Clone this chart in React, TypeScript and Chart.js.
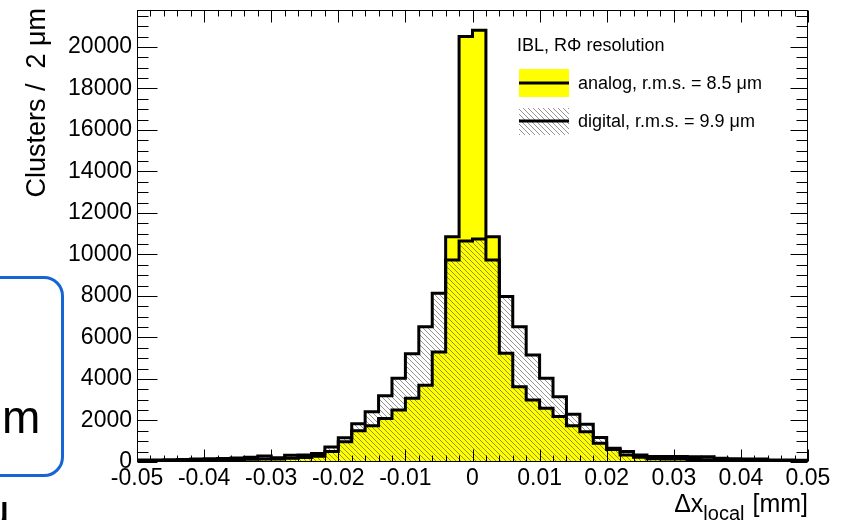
import React, { useEffect, useRef } from "react";
import { Chart, registerables } from "chart.js";

Chart.register(...registerables);

// ---- data (50 bins of 2 µm from -0.05 to 0.05 mm) ----
const xMin = -0.05;
const xMax = 0.05;
const binWidth = 0.002;

const analogCounts = [
  50, 60, 70, 90, 100, 110, 110, 120, 130, 150,
  150, 180, 220, 280, 500, 980, 1500, 1750, 2100, 2500,
  3070, 3700, 5300, 10850, 20500, 20800, 10850, 5240, 3630, 2990,
  2590, 2190, 1750, 1460, 900, 600, 340, 230, 160, 150,
  140, 120, 110, 100, 100, 90, 80, 60, 50, 40,
];

const digitalCounts = [
  100, 100, 110, 120, 150, 160, 170, 190, 230, 290,
  210, 330, 340, 410, 720, 1170, 1840, 2420, 3190, 4030,
  5220, 6520, 8130, 9735, 10650, 10750, 9735, 7970, 6520, 5160,
  4030, 3150, 2300, 1820, 1180, 660, 500, 340, 260, 260,
  260, 250, 250, 180, 160, 150, 140, 100, 100, 90,
];

const xTickValues = [-0.05, -0.04, -0.03, -0.02, -0.01, 0, 0.01, 0.02, 0.03, 0.04, 0.05];
const yTickValues = [0, 2000, 4000, 6000, 8000, 10000, 12000, 14000, 16000, 18000, 20000];
const yMax = 21780;
const yMinorStep = 500;

const legendTitle = "IBL, RΦ resolution";
const legendLabels = ["analog, r.m.s. = 8.5 μm", "digital, r.m.s. = 9.9 μm"];
const yTitle = "Clusters /  2 μm";
const xTitleMain = "Δx";
const xTitleSub = "local";
const xTitleUnit = "[mm]";

const FONT = "'Liberation Sans', Arial, Helvetica, sans-serif";

function histPoints(counts: number[]) {
  const pts = counts.map((c, i) => ({ x: xMin + i * binWidth, y: c }));
  pts.push({ x: xMax, y: counts[counts.length - 1] });
  return pts;
}

function makeHatch(ctx: CanvasRenderingContext2D) {
  const s = 5;
  const c = document.createElement("canvas");
  c.width = s;
  c.height = s;
  const g = c.getContext("2d")!;
  g.strokeStyle = "rgba(60,60,60,0.55)";
  g.lineWidth = 1;
  g.beginPath();
  for (const k of [-1, 0, 1]) {
    g.moveTo(0, k * s);
    g.lineTo(s, s + k * s);
  }
  g.stroke();
  return ctx.createPattern(c, "repeat")!;
}

export default function App() {
  const ref = useRef<HTMLCanvasElement | null>(null);

  useEffect(() => {
    const canvas = ref.current!;
    const ctx0 = canvas.getContext("2d")!;
    const hatch = makeHatch(ctx0);

    const rootAxes = {
      id: "rootAxes",
      afterDatasetsDraw(chart: any) {
        const { ctx, chartArea: a, scales } = chart;
        const xs = scales.x;
        const ys = scales.y;
        ctx.save();
        ctx.strokeStyle = "#000";
        ctx.lineWidth = 1;
        const L = Math.round(a.left) + 0.5;
        const R = Math.round(a.right) - 0.5;
        const T = Math.round(a.top) + 0.5;
        const B = Math.round(a.bottom) - 0.5;
        ctx.strokeRect(L, T, R - L, B - T);
        ctx.beginPath();
        for (let i = 0; i < xTickValues.length; i++) {
          const v = xTickValues[i];
          const px = Math.round(xs.getPixelForValue(v)) + 0.5;
          ctx.moveTo(px, B);
          ctx.lineTo(px, B - 12);
          ctx.moveTo(px, T);
          ctx.lineTo(px, T + 12);
          if (i < xTickValues.length - 1) {
            for (let k = 1; k < 5; k++) {
              const m = Math.round(xs.getPixelForValue(v + k * binWidth)) + 0.5;
              ctx.moveTo(m, B);
              ctx.lineTo(m, B - 6);
              ctx.moveTo(m, T);
              ctx.lineTo(m, T + 6);
            }
          }
        }
        for (let v = 0; v <= yMax; v += yMinorStep) {
          const py = Math.round(ys.getPixelForValue(v)) + 0.5;
          const major = v % 2000 === 0;
          ctx.moveTo(L, py);
          ctx.lineTo(L + (major ? 20 : 11), py);
          ctx.moveTo(R, py);
          ctx.lineTo(R - (major ? 17 : 11), py);
        }
        ctx.stroke();
        ctx.restore();
      },
      afterDraw(chart: any) {
        const { ctx } = chart;
        ctx.save();
        ctx.fillStyle = "#000";
        // y title
        ctx.save();
        ctx.translate(45, 8);
        ctx.rotate(-Math.PI / 2);
        ctx.font = `27px ${FONT}`;
        ctx.textAlign = "right";
        ctx.textBaseline = "alphabetic";
        ctx.fillText(yTitle, 0, 0);
        ctx.restore();
        // x title
        ctx.textBaseline = "alphabetic";
        ctx.textAlign = "left";
        ctx.font = `25px ${FONT}`;
        const wUnit = ctx.measureText(xTitleUnit).width;
        const unitX = 808 - wUnit;
        ctx.fillText(xTitleUnit, unitX, 512);
        ctx.font = `20px ${FONT}`;
        const wSub = ctx.measureText(xTitleSub).width;
        const subX = unitX - 8 - wSub;
        ctx.fillText(xTitleSub, subX, 520);
        ctx.font = `25px ${FONT}`;
        const wMain = ctx.measureText(xTitleMain).width;
        ctx.fillText(xTitleMain, subX - wMain, 512);
        // legend
        ctx.font = `18px ${FONT}`;
        ctx.fillText(legendTitle, 517, 51);
        ctx.fillStyle = "#ffff00";
        ctx.fillRect(519, 69, 50, 28);
        ctx.fillStyle = hatch;
        ctx.fillRect(519, 108, 50, 27);
        ctx.strokeStyle = "#000";
        ctx.lineWidth = 3;
        ctx.beginPath();
        ctx.moveTo(519, 83);
        ctx.lineTo(569, 83);
        ctx.moveTo(519, 121);
        ctx.lineTo(569, 121);
        ctx.stroke();
        ctx.fillStyle = "#000";
        ctx.fillText(legendLabels[0], 578, 89);
        ctx.fillText(legendLabels[1], 578, 127);
        ctx.restore();
      },
    };

    const chart = new Chart(canvas, {
      type: "line",
      data: {
        datasets: [
          {
            label: "digital",
            data: histPoints(digitalCounts),
            stepped: "before",
            borderColor: "#000",
            borderWidth: 3,
            backgroundColor: hatch,
            fill: "origin",
            pointRadius: 0,
            borderJoinStyle: "miter",
            borderCapStyle: "butt",
          },
          {
            label: "analog",
            data: histPoints(analogCounts),
            stepped: "before",
            borderColor: "#000",
            borderWidth: 3,
            backgroundColor: "#ffff00",
            fill: "origin",
            pointRadius: 0,
            borderJoinStyle: "miter",
            borderCapStyle: "butt",
          },
        ],
      },
      options: {
        animation: false,
        responsive: false,
        devicePixelRatio: 1,
        parsing: false as any,
        layout: { padding: { left: 0, right: 42, top: 10, bottom: 0 } },
        plugins: {
          legend: { display: false },
          tooltip: { enabled: false },
          filler: { drawTime: "beforeDatasetsDraw" } as any,
        },
        scales: {
          x: {
            type: "linear",
            min: xMin,
            max: xMax,
            grid: { display: false, drawTicks: false },
            border: { display: false },
            afterBuildTicks: (s: any) => {
              s.ticks = xTickValues.map((v) => ({ value: v }));
            },
            afterFit: (s: any) => {
              s.height = 58;
              s.paddingLeft = 0;
              s.paddingRight = 0;
            },
            ticks: {
              autoSkip: false,
              maxRotation: 0,
              padding: 3,
              color: "#000",
              font: { family: FONT, size: 23 },
              callback: (v: any) => {
                const n = Number(v);
                return Math.abs(n) < 1e-9 ? "0" : n.toFixed(2);
              },
            },
          },
          y: {
            type: "linear",
            min: 0,
            max: yMax,
            grid: { display: false, drawTicks: false },
            border: { display: false },
            afterBuildTicks: (s: any) => {
              s.ticks = yTickValues.map((v) => ({ value: v }));
            },
            afterFit: (s: any) => {
              s.width = 137;
              s.paddingTop = 0;
              s.paddingBottom = 0;
            },
            ticks: {
              padding: 5,
              color: "#000",
              font: { family: FONT, size: 23 },
              callback: (v: any) => String(v),
            },
          },
        },
      },
      plugins: [rootAxes],
    });

    return () => chart.destroy();
  }, []);

  return (
    <div
      style={{
        position: "fixed",
        left: 0,
        top: 0,
        width: 850,
        height: 520,
        overflow: "hidden",
        background: "#fff",
      }}
    >
      <canvas ref={ref} width={850} height={520} style={{ position: "absolute", left: 0, top: 0 }} />
      <div
        style={{
          position: "absolute",
          left: -40,
          top: 276,
          width: 104,
          height: 201,
          border: "3px solid #1565d4",
          borderRadius: 20,
          boxSizing: "border-box",
        }}
      />
      <span
        style={{
          position: "absolute",
          left: 2,
          top: 394,
          fontSize: 46,
          lineHeight: 1,
          fontFamily: FONT,
          color: "#000",
        }}
      >
        m
      </span>
      <span
        style={{
          position: "absolute",
          left: -16,
          top: 488,
          fontSize: 46,
          lineHeight: 1,
          fontFamily: FONT,
          color: "#000",
        }}
      >
        u
      </span>
    </div>
  );
}
